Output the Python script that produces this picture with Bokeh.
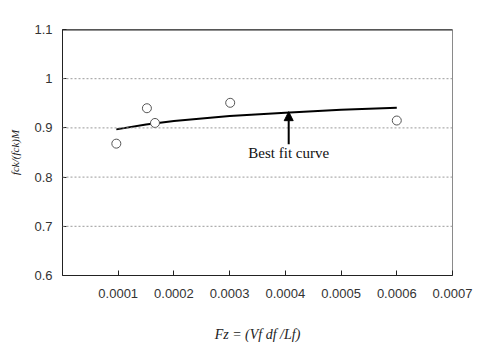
from bokeh.plotting import figure
from bokeh.models import Range1d, FixedTicker, NumeralTickFormatter, Arrow, NormalHead, Span, Label
from bokeh.embed import file_html
from bokeh.resources import INLINE

# data
pts_x = [0.0000966, 0.0001515, 0.000166, 0.000301, 0.0006]
pts_y = [0.868, 0.940, 0.910, 0.951, 0.915]
fit_x = [0.0000966, 0.00015, 0.0002, 0.0003, 0.0004, 0.0005, 0.0006]
fit_y = [0.897, 0.907, 0.914, 0.924, 0.931, 0.937, 0.941]
x_ticks = [0.0001, 0.0002, 0.0003, 0.0004, 0.0005, 0.0006, 0.0007]
y_ticks = [0.6, 0.7, 0.8, 0.9, 1.0, 1.1]
grid_y = [0.7, 0.8, 0.9, 1.0]
arrow_x = 0.000406
arrow_y = [0.867, 0.933]
note_text = "Best fit curve"
note_y = 0.85

p = figure(width=500, height=352, output_backend="svg", toolbar_location=None,
           x_range=Range1d(0, 0.0007), y_range=Range1d(0.6, 1.1),
           min_border_left=62, min_border_right=48, min_border_top=29, min_border_bottom=77)
p.background_fill_color = "white"
p.border_fill_color = "white"
p.outline_line_color = "#8a8a8a"
p.outline_line_width = 1
p.xgrid.visible = False
p.ygrid.visible = False

for g in grid_y:
    p.add_layout(Span(location=g, dimension="width", line_color="#9a9a9a",
                      line_dash="2 2", line_width=1))
p.add_layout(Span(location=1.1, dimension="width", line_color="#222222", line_width=2))

p.line(fit_x, fit_y, line_color="black", line_width=2)
p.scatter(pts_x, pts_y, marker="circle", size=9, fill_color="white",
          line_color="#555555", line_width=1)

p.add_layout(Arrow(end=NormalHead(size=9, fill_color="black", line_color="black"),
                   x_start=arrow_x, y_start=arrow_y[0], x_end=arrow_x, y_end=arrow_y[1],
                   line_color="black", line_width=2))
p.add_layout(Label(x=arrow_x, y=note_y, text=note_text, text_align="center",
                   text_baseline="middle", text_font="Liberation Serif",
                   text_font_size="15px", text_color="#111111"))

xa = p.xaxis[0]
xa.ticker = FixedTicker(ticks=x_ticks)
xa.formatter = NumeralTickFormatter(format="0.0000")
xa.major_tick_in = 5
xa.major_tick_out = 0
xa.minor_tick_in = 0
xa.minor_tick_out = 0
xa.axis_line_color = "#222222"
xa.major_tick_line_color = "#222222"
xa.major_label_text_font = "Liberation Sans"
xa.major_label_text_font_size = "13px"
xa.major_label_text_color = "#333333"
xa.major_label_standoff = 13
xa.axis_label = "Fz = (Vf df /Lf)"
xa.axis_label_text_font = "Liberation Serif"
xa.axis_label_text_font_style = "italic"
xa.axis_label_text_font_size = "14px"
xa.axis_label_text_color = "#222222"
xa.axis_label_standoff = 26

ya = p.yaxis[0]
ya.ticker = FixedTicker(ticks=y_ticks)
ya.major_label_overrides = {0.6: "0.6", 0.7: "0.7", 0.8: "0.8", 0.9: "0.9", 1.0: "1", 1.1: "1.1"}
ya.major_tick_in = 4
ya.major_tick_out = 0
ya.minor_tick_in = 0
ya.minor_tick_out = 0
ya.axis_line_color = "#222222"
ya.major_tick_line_color = "#222222"
ya.major_label_text_font = "Liberation Sans"
ya.major_label_text_font_size = "13px"
ya.major_label_text_color = "#333333"
ya.major_label_standoff = 10
ya.axis_label = "fck/(fck)M"
ya.axis_label_text_font = "Liberation Serif"
ya.axis_label_text_font_style = "italic"
ya.axis_label_text_font_size = "11px"
ya.axis_label_text_color = "#222222"
ya.axis_label_standoff = 10

open("out.html", "w").write(file_html(p, INLINE))
